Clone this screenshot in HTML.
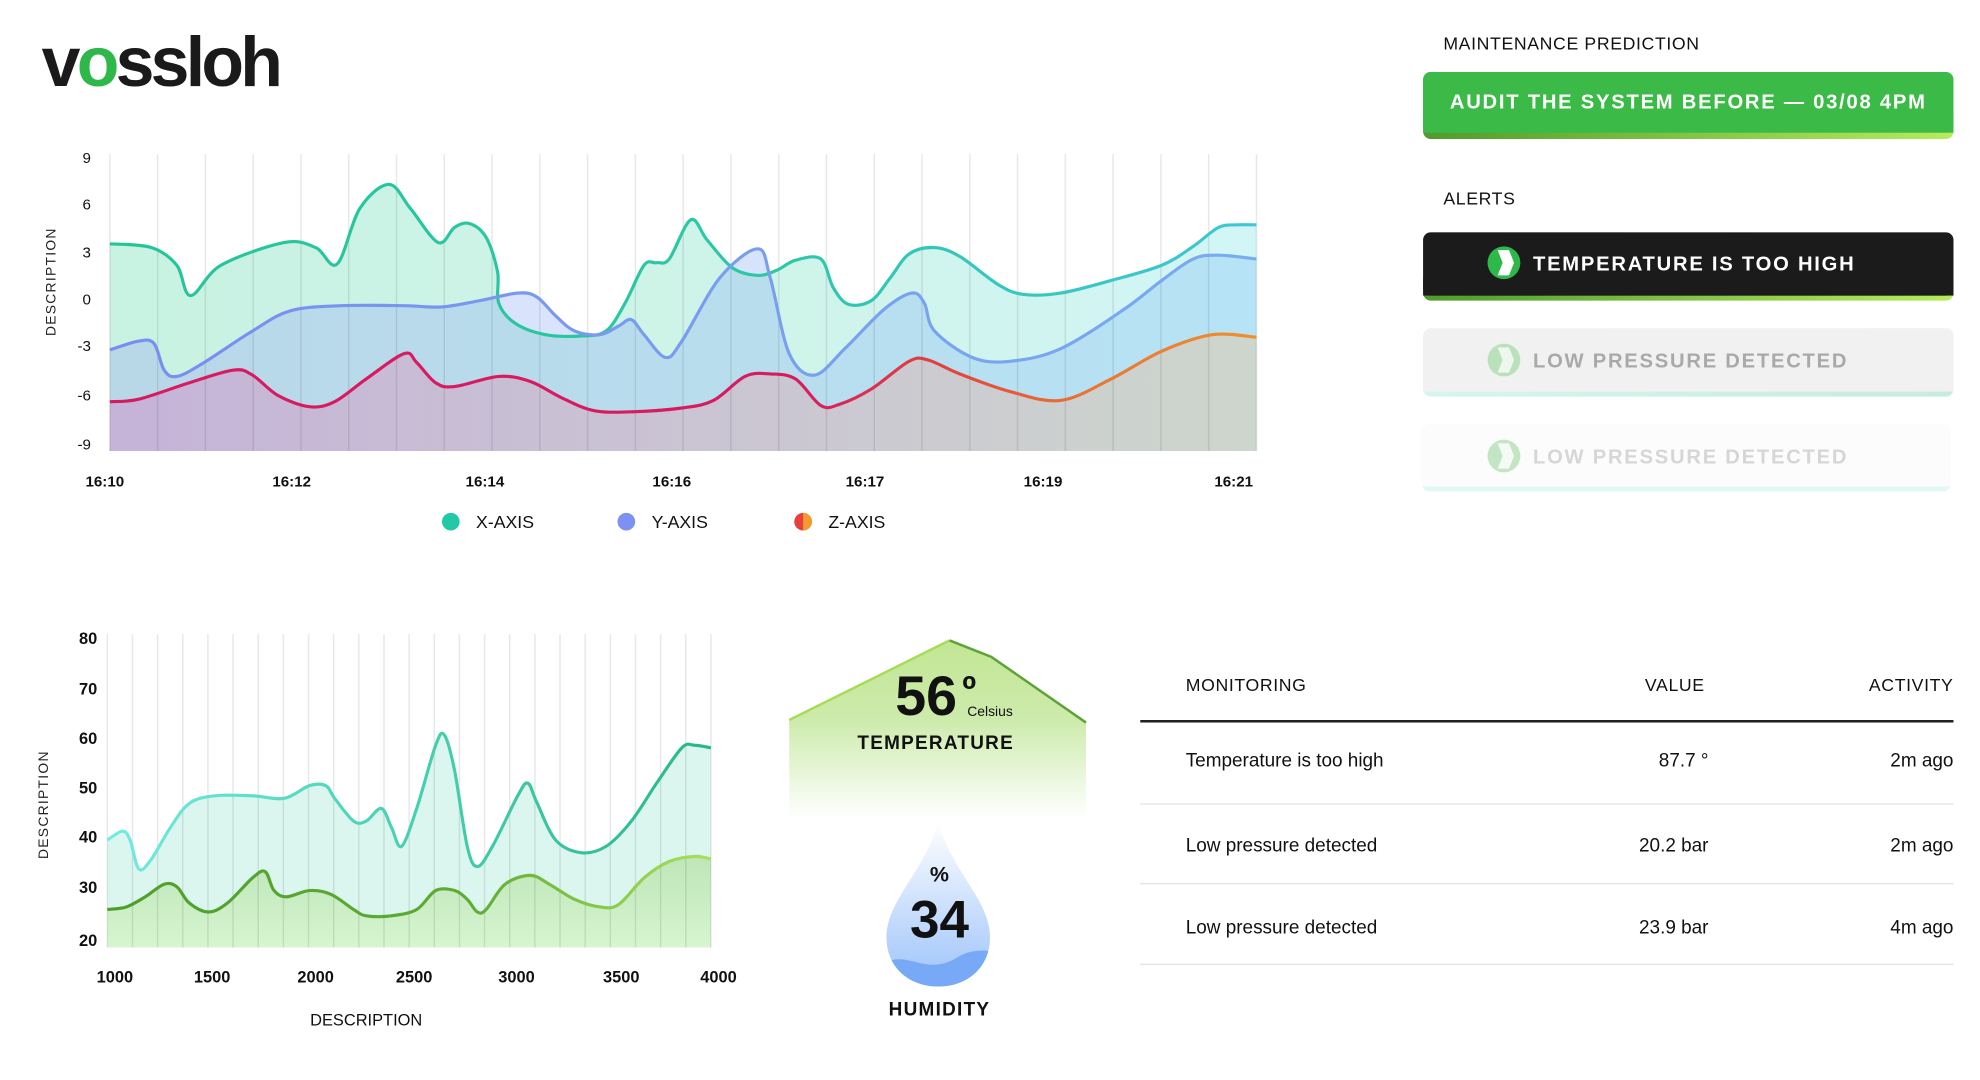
<!DOCTYPE html>
<html><head><meta charset="utf-8"><style>
html,body{margin:0;padding:0;background:#fff;width:1980px;height:1080px;overflow:hidden}
svg{display:block}
text{font-family:"Liberation Sans",sans-serif}
</style></head><body>
<svg id="s" width="1980" height="1080" viewBox="0 0 1568 855" preserveAspectRatio="none" xmlns="http://www.w3.org/2000/svg">
<defs>
<linearGradient id="gX" gradientUnits="userSpaceOnUse" x1="87" x2="995" y1="0" y2="0"><stop offset="0" stop-color="#c8f2e2"/><stop offset="0.6" stop-color="#cff4ea"/><stop offset="1" stop-color="#d2f5f6"/></linearGradient>
<linearGradient id="gXl" gradientUnits="userSpaceOnUse" x1="87" x2="995" y1="0" y2="0"><stop offset="0" stop-color="#26c597"/><stop offset="0.55" stop-color="#2cc7a6"/><stop offset="1" stop-color="#3ec7d4"/></linearGradient>
<linearGradient id="gYl" gradientUnits="userSpaceOnUse" x1="87" x2="995" y1="0" y2="0"><stop offset="0" stop-color="#7a8cf0"/><stop offset="1" stop-color="#78acf0"/></linearGradient>
<linearGradient id="gY" gradientUnits="userSpaceOnUse" x1="87" x2="995" y1="0" y2="0"><stop offset="0" stop-color="rgb(150,160,245)" stop-opacity="0.32"/><stop offset="1" stop-color="rgb(140,200,245)" stop-opacity="0.4"/></linearGradient>
<linearGradient id="gZ" gradientUnits="userSpaceOnUse" x1="87" x2="995" y1="0" y2="0"><stop offset="0" stop-color="#c5b3d8"/><stop offset="0.6" stop-color="#cbc7d2"/><stop offset="1" stop-color="#cdd6cc"/></linearGradient>
<linearGradient id="gZl" gradientUnits="userSpaceOnUse" x1="87" x2="995" y1="0" y2="0"><stop offset="0" stop-color="#d81b60"/><stop offset="0.6" stop-color="#d81b60"/><stop offset="0.72" stop-color="#e2403e"/><stop offset="0.85" stop-color="#ea7434"/><stop offset="1" stop-color="#f0902c"/></linearGradient>
<linearGradient id="gT" gradientUnits="userSpaceOnUse" x1="85" x2="563" y1="0" y2="0"><stop offset="0" stop-color="#72ece0"/><stop offset="0.5" stop-color="#48d0b0"/><stop offset="1" stop-color="#2ab68c"/></linearGradient>
<linearGradient id="gG" gradientUnits="userSpaceOnUse" x1="85" x2="563" y1="0" y2="0"><stop offset="0" stop-color="#4f9e2c"/><stop offset="0.6" stop-color="#5fac34"/><stop offset="1" stop-color="#a8e05c"/></linearGradient>
<linearGradient id="gGf" gradientUnits="userSpaceOnUse" x1="0" x2="0" y1="680" y2="750"><stop offset="0" stop-color="#bfe6b8"/><stop offset="1" stop-color="#d6f5d0"/></linearGradient>
<linearGradient id="gH" x1="0" x2="0" y1="0" y2="1"><stop offset="0" stop-color="#c2e694"/><stop offset="0.45" stop-color="#cdebac"/><stop offset="1" stop-color="#ffffff"/></linearGradient>
<linearGradient id="gD" x1="0" x2="0" y1="0" y2="1"><stop offset="0" stop-color="#ffffff"/><stop offset="1" stop-color="#9cc3fa"/></linearGradient>
<linearGradient id="gB1" x1="0" x2="1"><stop offset="0" stop-color="#4e9c2c"/><stop offset="1" stop-color="#b6ec5c"/></linearGradient>
<linearGradient id="gB2" x1="0" x2="1"><stop offset="0" stop-color="#d6f5ef"/><stop offset="1" stop-color="#c6ebdf"/></linearGradient>
<clipPath id="cd"><path d="M743,650 C733,690 702,712 702,742 C702,766 720,781 743,781 C766,781 784,766 784,742 C784,712 753,690 743,650 Z"/></clipPath>
</defs>

<!-- logo -->
<text x="33" y="68" font-size="56" font-weight="bold" fill="#1a1a1a" textLength="188" lengthAdjust="spacingAndGlyphs" letter-spacing="-3">v<tspan fill="#2fb84a">o</tspan>ssloh</text>

<!-- top chart -->
<g id="top"></g>
<g font-size="12" fill="#111" text-anchor="end">
<text x="72" y="129">9</text><text x="72" y="166">6</text><text x="72" y="204">3</text><text x="72" y="241">0</text><text x="72" y="278">-3</text><text x="72" y="317">-6</text><text x="72" y="356">-9</text>
</g>
<text transform="translate(44,223) rotate(-90)" font-size="11" letter-spacing="1" text-anchor="middle" fill="#222">DESCRIPTION</text>
<g font-size="12" fill="#111" text-anchor="middle" font-weight="bold">
<text x="83" y="385">16:10</text><text x="231" y="385">16:12</text><text x="384" y="385">16:14</text><text x="532" y="385">16:16</text><text x="685" y="385">16:17</text><text x="826" y="385">16:19</text><text x="977" y="385">16:21</text>
</g>
<circle cx="357" cy="413" r="7" fill="#22c9a6"/><text x="377" y="418" font-size="14" fill="#111">X-AXIS</text>
<circle cx="496" cy="413" r="7" fill="#7b92f2"/><text x="516" y="418" font-size="14" fill="#111">Y-AXIS</text>
<circle cx="636" cy="413" r="7" fill="#e8403e"/><path d="M636,406 a7,7 0 0 1 0,14" fill="#f39a2c"/><text x="656" y="418" font-size="14" fill="#111">Z-AXIS</text>

<!-- bottom chart -->
<g id="bot"></g>
<g font-size="13" fill="#111" text-anchor="end" font-weight="bold">
<text x="77" y="510">80</text><text x="77" y="550">70</text><text x="77" y="589">60</text><text x="77" y="628">50</text><text x="77" y="667">40</text><text x="77" y="707">30</text><text x="77" y="749">20</text>
</g>
<text transform="translate(38,637) rotate(-90)" font-size="11" letter-spacing="1" text-anchor="middle" fill="#222">DESCRIPTION</text>
<g font-size="13" fill="#111" text-anchor="middle" font-weight="bold">
<text x="91" y="778">1000</text><text x="168" y="778">1500</text><text x="250" y="778">2000</text><text x="328" y="778">2500</text><text x="409" y="778">3000</text><text x="492" y="778">3500</text><text x="569" y="778">4000</text>
</g>
<text x="290" y="812" font-size="13" text-anchor="middle" fill="#111">DESCRIPTION</text>

<!-- temperature -->
<path d="M625,570 L752,507 L785,520 L860,572 L860,648 L625,648 Z" fill="url(#gH)"/>
<path d="M625,570 L752,507" stroke="#a6dc58" stroke-width="2" fill="none"/>
<path d="M752,507 L785,520 L860,572" stroke="#5ea33a" stroke-width="2" fill="none"/>
<text x="709" y="566" font-size="44" font-weight="bold" fill="#111">56</text>
<text x="762" y="556" font-size="30" font-weight="bold" fill="#111">º</text>
<text x="766" y="567" font-size="11" fill="#111">Celsius</text>
<text x="741" y="593" font-size="15" font-weight="bold" text-anchor="middle" letter-spacing="1" fill="#111">TEMPERATURE</text>

<!-- humidity -->
<path d="M743,650 C733,690 702,712 702,742 C702,766 720,781 743,781 C766,781 784,766 784,742 C784,712 753,690 743,650 Z" fill="url(#gD)"/>
<g clip-path="url(#cd)"><path d="M698,764 C718,750 732,774 758,758 C770,751 780,752 790,754 L790,790 L698,790 Z" fill="#78a9f6"/></g>
<text x="744" y="698" font-size="17" font-weight="bold" text-anchor="middle" fill="#111">%</text>
<text x="744" y="742" font-size="42" font-weight="bold" text-anchor="middle" fill="#111">34</text>
<text x="744" y="804" font-size="15" font-weight="bold" text-anchor="middle" letter-spacing="1" fill="#111">HUMIDITY</text>

<!-- table -->
<g font-size="14" fill="#111">
<text x="939" y="547" letter-spacing="0.5">MONITORING</text>
<text x="1350" y="547" text-anchor="end" letter-spacing="0.5">VALUE</text>
<text x="1547" y="547" text-anchor="end" letter-spacing="0.5">ACTIVITY</text>
<rect x="903" y="570" width="644" height="2" fill="#222"/>
<text x="939" y="607" font-size="15">Temperature is too high</text><text x="1353" y="607" text-anchor="end" font-size="15">87.7 °</text><text x="1547" y="607" text-anchor="end" font-size="15">2m ago</text>
<rect x="903" y="636" width="644" height="1" fill="#e2e2e2"/>
<text x="939" y="674" font-size="15">Low pressure detected</text><text x="1353" y="674" text-anchor="end" font-size="15">20.2 bar</text><text x="1547" y="674" text-anchor="end" font-size="15">2m ago</text>
<rect x="903" y="699" width="644" height="1" fill="#e2e2e2"/>
<text x="939" y="739" font-size="15">Low pressure detected</text><text x="1353" y="739" text-anchor="end" font-size="15">23.9 bar</text><text x="1547" y="739" text-anchor="end" font-size="15">4m ago</text>
<rect x="903" y="763" width="644" height="1" fill="#e2e2e2"/>
</g>

<!-- right panel -->
<text x="1143" y="39" font-size="14" fill="#111" letter-spacing="0.5">MAINTENANCE PREDICTION</text>
<rect x="1127" y="57" width="420" height="53" rx="6" fill="url(#gB1)"/>
<rect x="1127" y="57" width="420" height="48" rx="6" fill="#3bba47"/>
<rect x="1127" y="90" width="420" height="15" fill="#3bba47"/>
<text x="1337" y="86" font-size="16" font-weight="bold" fill="#fff" text-anchor="middle" letter-spacing="1.4">AUDIT THE SYSTEM BEFORE — 03/08 4PM</text>
<text x="1143" y="162" font-size="14" fill="#111" letter-spacing="0.5">ALERTS</text>

<rect x="1127" y="184" width="420" height="54" rx="6" fill="url(#gB1)"/>
<rect x="1127" y="184" width="420" height="50" rx="6" fill="#1b1b1b"/>
<rect x="1127" y="220" width="420" height="14" fill="#1b1b1b"/>
<circle cx="1191" cy="208" r="13" fill="#2fb84a"/><path d="M1186,198 L1195,198 L1199,208 L1195,218 L1186,218 L1190,208 Z" fill="#fff"/>
<text x="1214" y="214" font-size="16" font-weight="bold" fill="#fff" letter-spacing="1.4">TEMPERATURE IS TOO HIGH</text>

<rect x="1127" y="260" width="420" height="54" rx="6" fill="url(#gB2)"/>
<rect x="1127" y="260" width="420" height="50" rx="6" fill="#f1f1f1"/>
<rect x="1127" y="296" width="420" height="14" fill="#f1f1f1"/>
<circle cx="1191" cy="285" r="13" fill="#b9e2bb"/><path d="M1186,275 L1195,275 L1199,285 L1195,295 L1186,295 L1190,285 Z" fill="#eef7ee"/>
<text x="1214" y="291" font-size="16" font-weight="bold" fill="#a9a9a9" letter-spacing="1.4">LOW PRESSURE DETECTED</text>

<rect x="1126" y="336" width="419" height="53" rx="6" fill="#e2f8f5"/>
<rect x="1126" y="336" width="419" height="49" rx="6" fill="#fcfcfc"/>
<rect x="1126" y="372" width="419" height="13" fill="#fcfcfc"/>
<circle cx="1191" cy="361" r="13" fill="#c2e6c3"/><path d="M1186,351 L1195,351 L1199,361 L1195,371 L1186,371 L1190,361 Z" fill="#f4fbf4"/>
<text x="1214" y="367" font-size="16" font-weight="bold" fill="#d6d6d6" letter-spacing="1.4">LOW PRESSURE DETECTED</text>
</svg>
<script>
function sm(p){var d="M"+p[0][0]+","+p[0][1];for(var i=0;i<p.length-1;i++){var a=p[i-1]||p[i],b=p[i],c=p[i+1],e=p[i+2]||c;var t=6;d+=" C"+(b[0]+(c[0]-a[0])/t)+","+(b[1]+(c[1]-a[1])/t)+" "+(c[0]-(e[0]-b[0])/t)+","+(c[1]-(e[1]-b[1])/t)+" "+c[0]+","+c[1];}return d;}
function P(a){var r=[];for(var i=0;i<a.length;i+=2)r.push([a[i],a[i+1]]);return r;}
var NS="http://www.w3.org/2000/svg";
function add(g,tag,at){var e=document.createElementNS(NS,tag);for(var k in at)e.setAttribute(k,at[k]);g.appendChild(e);return e;}
var X=P([87,193,120,196,140,210,151,234,175,210,225,192,250,196,267,209,285,165,308,146,325,165,347,192,360,180,372,177,385,188,394,215,395,240,408,256,432,265,460,266,480,262,495,240,510,210,520,208,530,205,547,174,560,190,580,212,600,218,615,214,630,206,650,205,660,228,672,241,690,238,705,220,720,201,740,196,760,203,790,225,810,233,840,232,880,222,920,210,945,195,965,180,980,178,995,178]);
var Y=P([87,277,110,270,122,272,130,293,140,298,160,288,200,262,230,246,270,242,320,242,350,243,380,238,410,232,425,235,440,250,455,262,475,265,490,258,500,253,510,265,527,283,540,270,570,220,600,197,610,220,625,280,645,297,670,275,700,245,722,232,732,240,740,262,770,283,800,286,840,276,890,245,920,222,945,205,965,202,995,205]);
var Z=P([87,318,110,316,150,303,185,293,200,297,220,313,245,322,265,318,290,300,320,280,330,287,345,303,360,306,395,298,420,302,445,315,470,325,500,326,540,323,565,317,590,298,610,296,630,300,650,321,665,320,690,308,720,286,735,285,760,296,800,310,840,317,880,300,920,278,960,265,995,267]);
var g=document.getElementById("top");
function area(g,pts,by,fill){var d=sm(pts);add(g,"path",{d:d+" L"+pts[pts.length-1][0]+","+by+" L"+pts[0][0]+","+by+" Z",fill:fill});return d;}
var dx=area(g,X,357,"url(#gX)"),dy=area(g,Y,357,"url(#gY)"),dz=area(g,Z,357,"url(#gZ)");
for(var i=0;i<=24;i++){var x=87+i*(908/24);add(g,"line",{x1:x,x2:x,y1:122,y2:357,stroke:"rgba(0,0,0,0.09)","stroke-width":1.2});}
add(g,"path",{d:dx,fill:"none",stroke:"url(#gXl)","stroke-width":2.5});
add(g,"path",{d:dy,fill:"none",stroke:"url(#gYl)","stroke-width":2.5});
add(g,"path",{d:dz,fill:"none",stroke:"url(#gZl)","stroke-width":2.5});
var T=P([85,665,97,658,103,665,110,688,120,680,135,655,150,636,170,630,200,630,225,632,245,622,258,622,265,632,280,650,290,650,302,640,310,655,318,670,330,640,345,590,352,582,360,610,370,670,378,686,390,670,410,630,418,620,425,635,440,665,460,675,480,670,500,650,520,620,540,592,550,590,563,592]);
var G=P([85,720,100,718,115,710,130,700,140,702,150,715,165,722,180,715,200,695,210,690,217,705,227,710,245,705,262,708,280,720,290,725,310,725,330,720,345,705,360,705,370,712,378,722,385,720,400,700,420,693,435,700,455,712,475,718,490,716,510,695,530,682,550,678,563,680]);
var b=document.getElementById("bot");
var dt=area(b,T,750,"#dbf6ef"),dg=area(b,G,750,"url(#gGf)");
for(var i=0;i<=24;i++){var x=85+i*(478/24);add(b,"line",{x1:x,x2:x,y1:502,y2:750,stroke:"rgba(0,0,0,0.09)","stroke-width":1.2});}
add(b,"path",{d:dt,fill:"none",stroke:"url(#gT)","stroke-width":2.5});
add(b,"path",{d:dg,fill:"none",stroke:"url(#gG)","stroke-width":2.5});
</script>
</body></html>
